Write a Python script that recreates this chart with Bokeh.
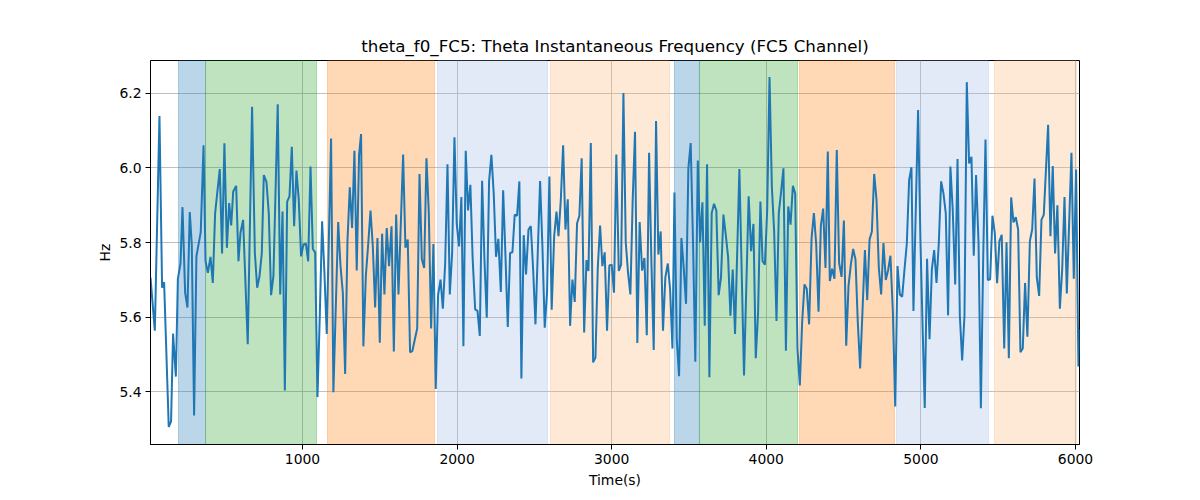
from bokeh.plotting import figure
from bokeh.models import FixedTicker, PrintfTickFormatter, Range1d, ColumnDataSource, BoxAnnotation
from bokeh.embed import file_html
from bokeh.resources import INLINE

# ---------------- data ----------------
time_s = [
    17, 45, 75, 92, 105, 135, 150, 163, 181, 194, 211, 224, 241, 256, 271, 284, 299, 314, 342, 360,
    373, 388, 405, 420, 435, 465, 480, 495, 511, 526, 539, 552, 571, 586, 599, 616, 646, 674, 692, 707,
    722, 737, 750, 767, 782, 797, 812, 840, 856, 871, 886, 901, 916, 931, 946, 961, 976, 991, 1006, 1022,
    1037, 1052,
    1067, 1082, 1097, 1112, 1127, 1142, 1157, 1185, 1200, 1231, 1246, 1261, 1276, 1291, 1306, 1321, 1336,
    1351, 1366, 1379, 1394, 1410, 1425, 1440, 1455, 1470, 1485, 1500, 1515, 1530, 1545, 1560, 1576, 1591,
    1606, 1621, 1651, 1666, 1681, 1696, 1711, 1727, 1742, 1757, 1772, 1787, 1802, 1817, 1832, 1847, 1862,
    1877, 1893, 1908, 1923, 1938, 1953, 1968, 1983, 1998, 2013,
    2028, 2041, 2056, 2071, 2086, 2101, 2117, 2132, 2147, 2162, 2177, 2192, 2207, 2222, 2237, 2252, 2267,
    2283, 2298, 2313, 2328, 2343, 2358, 2373, 2388, 2403, 2416, 2431, 2446, 2462, 2477, 2492, 2507, 2522,
    2537, 2552, 2567, 2582, 2597, 2612, 2628, 2643, 2656, 2671, 2686, 2701, 2716, 2731, 2746, 2761, 2776,
    2791, 2806, 2822, 2837, 2850, 2865, 2880, 2895, 2910, 2925, 2940, 2955, 2970, 2985,
    3000, 3015, 3030, 3046, 3061, 3076, 3091, 3106, 3121, 3136, 3151, 3166, 3181, 3197, 3212, 3227, 3242,
    3257, 3272, 3287, 3302, 3317, 3332, 3347, 3363, 3378, 3393, 3406, 3421, 3436, 3451, 3466, 3481, 3496,
    3511, 3526, 3541, 3557, 3572, 3587, 3602, 3617, 3632, 3647, 3662, 3677, 3692, 3707, 3723, 3738, 3753,
    3768, 3783, 3798, 3826, 3856, 3886, 3902, 3917, 3932, 3947, 3962,
    3976, 3991, 4006, 4021, 4036, 4051, 4066, 4081, 4096, 4111, 4127, 4142, 4157, 4172, 4187, 4202, 4217,
    4232, 4247, 4262, 4277, 4293, 4308, 4323, 4338, 4353, 4368, 4383, 4398, 4411, 4426, 4441, 4456, 4471,
    4487, 4502, 4517, 4532, 4547, 4562, 4577, 4592, 4607, 4622, 4638, 4653, 4668, 4683, 4698, 4713, 4728,
    4743, 4758, 4773, 4788, 4803, 4819, 4834, 4849, 4864, 4879, 4894, 4909, 4924,
    4939, 4952, 4967, 4982, 4997, 5012, 5025, 5040, 5056, 5071, 5086, 5101, 5116, 5131, 5146, 5161, 5176,
    5191, 5206, 5222, 5237, 5252, 5267, 5282, 5297, 5312, 5327, 5342, 5357, 5373, 5388, 5403, 5418, 5433,
    5448, 5463, 5478, 5493, 5508, 5523, 5539, 5554, 5569, 5584, 5599, 5614, 5629, 5644, 5659, 5674, 5689,
    5705, 5720, 5735, 5750, 5765, 5780, 5795, 5823, 5838, 5853, 5868, 5883, 5899, 5914, 5929, 5944, 5974,
    5989, 6004, 6019, 6026,
]

freq_hz = [
    5.706, 5.564, 6.139, 5.679, 5.694, 5.306, 5.321, 5.556, 5.441, 5.703, 5.744, 5.895, 5.666, 5.626,
    5.882, 5.795, 5.337, 5.763, 5.828, 6.061, 5.750, 5.719, 5.762, 5.692, 5.879, 5.997, 5.771, 6.066,
    5.786, 5.906, 5.846, 5.937, 5.952, 5.750, 5.826, 5.861, 5.528, 6.164, 5.772, 5.679, 5.710, 5.772,
    5.981, 5.963, 5.879, 5.659, 5.710, 6.171, 5.661, 5.883, 5.404, 5.910, 5.924, 6.057, 5.844, 5.993,
    5.915, 5.763, 5.795, 5.797, 5.750, 6.004,
    5.783, 5.774, 5.386, 5.604, 5.857, 5.719, 5.555, 6.079, 5.399, 5.855, 5.737, 5.666, 5.448, 5.804,
    5.948, 5.839, 6.046, 5.725, 6.035, 6.091, 5.522, 5.712, 5.795, 5.886, 5.790, 5.626, 5.812, 5.532,
    5.824, 5.661, 5.839, 5.737, 5.844, 5.508, 5.875, 5.661, 6.036, 5.786, 5.808, 5.506, 5.510, 5.541,
    5.570, 5.984, 5.756, 5.732, 6.026, 5.881, 5.570, 5.796, 5.408, 5.659, 5.701, 5.623, 5.744, 6.010,
    5.661, 5.772, 6.082, 5.848, 5.790,
    5.922, 5.522, 6.046, 5.886, 5.955, 5.755, 5.621, 5.617, 5.550, 5.966, 5.755, 5.599, 5.964, 6.035,
    5.932, 5.762, 5.810, 5.668, 5.940, 5.764, 5.574, 5.772, 5.774, 5.875, 5.872, 5.964, 5.436, 5.820,
    5.715, 5.835, 5.844, 5.728, 5.581, 5.774, 5.965, 5.790, 5.572, 5.666, 5.977, 5.620, 5.817, 5.883,
    5.817, 5.915, 6.061, 5.835, 5.916, 5.577, 5.701, 5.641, 5.851, 5.872, 6.026, 5.559, 5.753, 5.724,
    6.067, 5.479, 5.492, 5.732, 5.846, 5.737, 5.774, 5.564, 5.739,
    5.741, 5.666, 6.036, 5.724, 5.741, 6.201, 5.801, 5.719, 5.661, 5.915, 6.097, 5.531, 5.855, 5.725,
    5.759, 5.552, 6.041, 5.747, 5.512, 6.126, 5.768, 5.830, 5.564, 5.706, 5.744, 5.675, 5.516, 5.934,
    5.541, 5.442, 5.812, 5.732, 5.636, 5.999, 6.067, 5.804, 5.481, 6.020, 5.801, 5.908, 5.577, 6.010,
    5.439, 5.879, 5.904, 5.886, 5.659, 5.706, 5.875, 5.821, 5.762, 5.604, 5.728, 5.555, 5.997, 5.444,
    5.924, 5.777, 5.850, 5.490, 5.612, 5.910,
    5.750, 5.741, 5.888, 6.244, 5.950, 5.830, 5.590, 5.879, 5.937, 5.999, 5.510, 5.897, 5.848, 5.952,
    5.932, 5.515, 5.417, 5.586, 5.688, 5.676, 5.581, 5.812, 5.879, 5.795, 5.615, 5.845, 5.891, 5.732,
    6.044, 5.697, 5.730, 5.703, 6.048, 5.746, 5.708, 5.859, 5.524, 5.684, 5.741, 5.783, 5.755, 5.586,
    5.463, 5.612, 5.780, 5.646, 5.808, 5.830, 5.984, 5.915, 5.732, 5.661, 5.799, 5.700, 5.726, 5.765,
    5.612, 5.361, 5.737, 5.661, 5.655, 5.728, 5.797, 5.968,
    6.002, 5.617, 5.888, 6.155, 5.808, 5.559, 5.357, 5.757, 5.541, 5.728, 5.780, 5.692, 5.799, 5.964,
    5.932, 5.879, 5.605, 6.004, 5.888, 5.688, 6.024, 5.604, 5.484, 5.604, 6.230, 6.012, 6.030, 5.765,
    5.981, 5.799, 5.356, 5.755, 6.076, 5.700, 5.702, 5.872, 5.826, 5.691, 5.804, 5.821, 5.516, 5.801,
    5.490, 5.921, 5.854, 5.868, 5.835, 5.506, 5.516, 5.692, 5.548, 5.804, 5.835, 5.972, 5.706, 5.657,
    5.861, 5.875, 6.116, 5.817, 6.005, 5.771, 5.900, 5.623, 5.728, 5.922, 5.664, 6.041, 5.703, 5.996,
    5.468, 5.568,
]

# shaded phases
span_start = [198, 373, 1162, 1873, 2604, 3406, 3568, 4215, 4842, 5476]
span_end = [373, 1091, 1854, 2585, 3374, 3568, 4202, 4829, 5437, 6005]
span_kind = [0, 1, 2, 3, 4, 0, 1, 2, 3, 4]

x_ticks = [1000, 2000, 3000, 4000, 5000, 6000]
y_ticks = [5.4, 5.6, 5.8, 6.0, 6.2]
x_limits = (17, 6026)
y_limits = (5.259, 6.288)

TITLE = "theta_f0_FC5: Theta Instantaneous Frequency (FC5 Channel)"
X_LABEL = "Time(s)"
Y_LABEL = "Hz"

# ---------------- styling ----------------
kind_colors = ["#1f77b4", "#2ca02c", "#ff7f0e", "#a2bae3", "#f8b676"]
FONT = "DejaVu Sans"

p = figure(
    width=1184, height=490,
    output_backend="svg", toolbar_location=None,
    x_range=Range1d(*x_limits), y_range=Range1d(*y_limits),
    title=TITLE,
    min_border_left=150, min_border_right=105,
    min_border_top=60, min_border_bottom=44,
)

p.background_fill_color = "white"
p.border_fill_color = "white"
p.outline_line_color = "black"
p.outline_line_alpha = 1.0
p.outline_line_width = 1

p.title.align = "center"
p.title.text_font = FONT
p.title.text_font_size = "16.7px"
p.title.text_font_style = "normal"
p.title.text_color = "black"

for ax in (p.xaxis, p.yaxis):
    ax.axis_line_color = "black"
    ax.major_tick_line_color = "black"
    ax.major_tick_out = 5
    ax.major_tick_in = 0
    ax.minor_tick_line_color = None
    ax.major_label_text_font = FONT
    ax.major_label_text_font_size = "13.9px"
    ax.major_label_text_color = "black"
    ax.axis_label_text_font = FONT
    ax.axis_label_text_font_size = "13.9px"
    ax.axis_label_text_font_style = "normal"
    ax.axis_label_text_color = "black"
    ax.major_label_standoff = 4

p.xaxis.axis_label = X_LABEL
p.yaxis.axis_label = Y_LABEL
p.xaxis.ticker = FixedTicker(ticks=x_ticks)
p.yaxis.ticker = FixedTicker(ticks=y_ticks)
p.yaxis.formatter = PrintfTickFormatter(format="%.1f")
p.xaxis.axis_label_standoff = 5
p.yaxis.axis_label_standoff = 3

p.xgrid.ticker = FixedTicker(ticks=x_ticks)
p.ygrid.ticker = FixedTicker(ticks=y_ticks)
p.grid.grid_line_color = "#b0b0b0"
p.grid.grid_line_width = 0.8

for s, e, k in zip(span_start, span_end, span_kind):
    c = kind_colors[k]
    box = BoxAnnotation(left=s, right=e, fill_color=c, fill_alpha=0.3,
                        line_color=c, line_alpha=0.3, line_width=1, level="underlay")
    p.add_layout(box)

src = ColumnDataSource(data=dict(t=time_s, f=freq_hz))
p.line("t", "f", source=src, line_color="#1f77b4", line_width=2)

open("out.html", "w").write(file_html(p, INLINE))
